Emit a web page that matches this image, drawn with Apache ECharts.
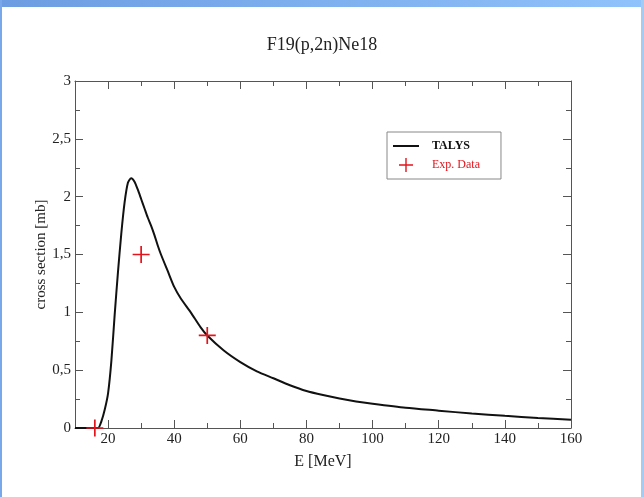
<!DOCTYPE html>
<html>
<head>
<meta charset="utf-8">
<script src="https://cdn.jsdelivr.net/npm/echarts@6/dist/echarts.min.js"></script>
<style>
html,body{margin:0;padding:0;background:#fff;}
#chart{width:644px;height:497px;}
</style>
</head>
<body>
<div id="chart"></div>
<script>
// TALYS calculation
const energies = [10, 12, 14, 16, 17, 18, 19, 20, 21, 22, 23, 24, 25, 26, 27, 28, 29, 30, 31, 32, 33, 34, 35, 36, 38, 40, 42, 45, 48, 50, 55, 60, 65, 70, 75, 80, 85, 90, 95, 100, 110, 120, 130, 140, 150, 160];
const talys = [0, 0, 0, 0, 0, 0.06, 0.16, 0.3, 0.58, 0.98, 1.35, 1.68, 1.95, 2.12, 2.16, 2.13, 2.06, 1.98, 1.9, 1.82, 1.75, 1.67, 1.58, 1.5, 1.36, 1.22, 1.12, 1.0, 0.87, 0.8, 0.67, 0.57, 0.49, 0.43, 0.37, 0.32, 0.285, 0.255, 0.23, 0.21, 0.175, 0.15, 0.125, 0.105, 0.087, 0.072];
// Experimental data
const expEnergies = [16, 30, 50];
const expValues = [0, 1.5, 0.8];
// Axis ticks
const xMajorTicks = [20, 40, 60, 80, 100, 120, 140, 160];

const serif = '"Liberation Serif", "DejaVu Serif", serif';
const axisColor = '#555';
const red = '#e3141c';
const plusPath = 'path://M9,0H11V9H20V11H11V20H9V11H0V9H9Z';
const lineIcon = 'path://M0,0H0.01V0.01H0Z M0,6H26V8H0Z M25.99,13.99H26V14H25.99Z';

const chart = echarts.init(document.getElementById('chart'), null, {renderer: 'canvas'});

const xBase = {type: 'value', min: 10, max: 160, splitLine: {show: false}, gridIndex: 0};
const yBase = {type: 'value', min: 0, max: 3, interval: 0.5, splitLine: {show: false}, gridIndex: 0};

chart.setOption({
  animation: false,
  backgroundColor: '#fff',
  title: {
    text: 'F19(p,2n)Ne18',
    left: 'center',
    top: 31,
    textStyle: {fontFamily: serif, fontSize: 18, fontWeight: 'normal', color: '#222'}
  },
  graphic: [
    {type: 'rect', shape: {x: 0, y: 0, width: 644, height: 7}, silent: true,
     style: {fill: new echarts.graphic.LinearGradient(0, 0, 1, 0, [{offset: 0, color: '#6c9de2'}, {offset: 1, color: '#90c2fb'}])}},
    {type: 'rect', shape: {x: 0, y: 0, width: 2, height: 497}, silent: true, style: {fill: '#78a8ea'}},
    {type: 'rect', shape: {x: 641, y: 0, width: 3, height: 497}, silent: true, style: {fill: '#a5cbf3'}}
  ],
  grid: {left: 75, right: 73, top: 81, bottom: 69, containLabel: false},
  legend: {
    orient: 'vertical',
    left: 387,
    top: 132,
    padding: [7, 21, 7, 6],
    itemWidth: 26,
    itemHeight: 14,
    itemGap: 5,
    backgroundColor: '#fff',
    borderColor: '#888',
    borderWidth: 1,
    textStyle: {fontFamily: serif, fontSize: 12, padding: [0, 0, 0, 8]},
    data: [
      {name: 'TALYS', icon: lineIcon, itemStyle: {color: '#111'}, textStyle: {color: '#111', fontWeight: 'bold'}},
      {name: 'Exp. Data', textStyle: {color: red}}
    ]
  },
  xAxis: [
    Object.assign({}, xBase, {
      position: 'bottom',
      name: 'E [MeV]', nameLocation: 'middle', nameGap: 26, nameMoveOverlap: false,
      nameTextStyle: {fontFamily: serif, fontSize: 16, color: '#222'},
      axisLine: {show: true, lineStyle: {color: axisColor, width: 1}},
      axisTick: {show: true, inside: true, length: 8, customValues: xMajorTicks, lineStyle: {color: axisColor}},
      axisLabel: {show: true, customValues: xMajorTicks, margin: 4, fontFamily: serif, fontSize: 15, color: '#222'}
    }),
    Object.assign({}, xBase, {
      position: 'bottom', interval: 10,
      axisLine: {show: false},
      axisTick: {show: true, inside: true, length: 5, lineStyle: {color: axisColor}},
      axisLabel: {show: false}
    }),
    Object.assign({}, xBase, {
      position: 'top',
      axisLine: {show: true, lineStyle: {color: axisColor, width: 1}},
      axisTick: {show: true, inside: true, length: 8, customValues: xMajorTicks, lineStyle: {color: axisColor}},
      axisLabel: {show: false}
    }),
    Object.assign({}, xBase, {
      position: 'top', interval: 10,
      axisLine: {show: false},
      axisTick: {show: true, inside: true, length: 5, lineStyle: {color: axisColor}},
      axisLabel: {show: false}
    })
  ],
  yAxis: [
    Object.assign({}, yBase, {
      position: 'left',
      name: 'cross section [mb]', nameLocation: 'middle', nameGap: 26, nameMoveOverlap: false,
      nameTextStyle: {fontFamily: serif, fontSize: 15, color: '#222'},
      axisLine: {show: true, lineStyle: {color: axisColor, width: 1}},
      axisTick: {show: true, inside: true, length: 8, lineStyle: {color: axisColor}},
      minorTick: {show: true, splitNumber: 2, length: 5, lineStyle: {color: axisColor}},
      axisLabel: {show: true, margin: 4, fontFamily: serif, fontSize: 15, color: '#222',
        formatter: v => String(v).replace('.', ',')}
    }),
    Object.assign({}, yBase, {
      position: 'right',
      axisLine: {show: true, lineStyle: {color: axisColor, width: 1}},
      axisTick: {show: true, inside: true, length: 8, lineStyle: {color: axisColor}},
      minorTick: {show: true, splitNumber: 2, length: 5, lineStyle: {color: axisColor}},
      axisLabel: {show: false}
    })
  ],
  series: [
    {
      name: 'TALYS',
      type: 'line',
      xAxisIndex: 0, yAxisIndex: 0,
      data: energies.map((e, i) => [e, talys[i]]),
      symbol: 'none',
      smooth: 0.25,
      lineStyle: {color: '#111', width: 2},
      itemStyle: {color: '#111'},
      z: 3
    },
    {
      name: 'Exp. Data',
      type: 'scatter',
      xAxisIndex: 0, yAxisIndex: 0,
      data: expEnergies.map((e, i) => [e, expValues[i]]),
      symbol: plusPath,
      symbolSize: 17,
      symbolKeepAspect: true,
      itemStyle: {color: red, opacity: 1},
      z: 4
    }
  ]
});
</script>
</body>
</html>
